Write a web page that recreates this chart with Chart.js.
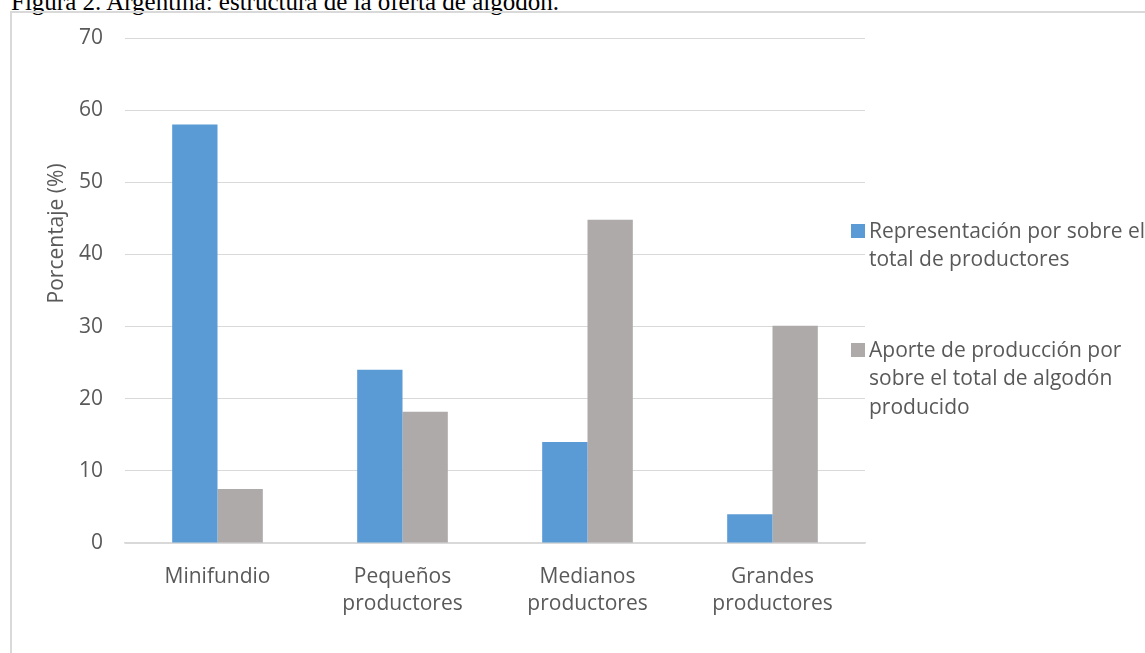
<!DOCTYPE html>
<html>
<head>
<meta charset="utf-8">
<script src="https://cdn.jsdelivr.net/npm/chart.js@4/dist/chart.umd.min.js"></script>
<style>
  html, body { margin: 0; padding: 0; width: 1145px; height: 653px; overflow: hidden; background: #fff; }
  #title { position: absolute; left: 11px; top: -11px; font-family: "Liberation Serif", "Times New Roman", serif; font-size: 25px; line-height: 25px; color: #000; white-space: nowrap; }
  #frame { position: absolute; left: 10px; top: 11px; width: 1200px; height: 700px; border: 2px solid #d9d9d9; box-sizing: border-box; }
  #c { position: absolute; left: 0; top: 0; }
</style>
</head>
<body>
<div id="title">Figura 2. Argentina: estructura de la oferta de algodón.</div>
<div id="frame"></div>
<canvas id="c" width="1145" height="653"></canvas>
<script>
const categories = [['Minifundio'], ['Pequeños', 'productores'], ['Medianos', 'productores'], ['Grandes', 'productores']];
const seriesNames = [['Representación por sobre el', 'total de productores'], ['Aporte de producción por', 'sobre el total de algodón', 'producido']];
const representacion = [58, 24, 14, 4];
const aporte = [7.5, 18.2, 44.8, 30.1];
const yTicks = [0, 10, 20, 30, 40, 50, 60, 70];
const yTitle = 'Porcentaje (%)';
const colors = ['#5B9BD5', '#AEAAAA'];
const textColor = '#595959';
const FONT = '"Open Sans", "Noto Sans", sans-serif';

const sidePlugin = {
  id: 'side',
  afterDraw(chart) {
    const ctx = chart.ctx;
    const a = chart.chartArea;
    ctx.save();
    // y axis title
    ctx.fillStyle = textColor;
    ctx.font = '21px ' + FONT;
    ctx.textAlign = 'center';
    ctx.textBaseline = 'middle';
    ctx.translate(57, a.top + (a.bottom - a.top) * 0.387);
    ctx.rotate(-Math.PI / 2);
    ctx.fillText(yTitle, 0, 0);
    ctx.restore();
    // legend
    ctx.save();
    ctx.font = '21px ' + FONT;
    ctx.textAlign = 'left';
    ctx.textBaseline = 'alphabetic';
    const starts = [238, 357];
    const lh = 28.3;
    chart.data.datasets.forEach((ds, i) => {
      const base = starts[i];
      ctx.fillStyle = ds.backgroundColor;
      ctx.fillRect(a.right - 14, base - 14, 14, 14);
      ctx.fillStyle = textColor;
      seriesNames[i].forEach((line, j) => {
        ctx.fillText(line, a.right + 4, base + j * lh);
      });
    });
    ctx.restore();
  }
};

new Chart(document.getElementById('c'), {
  type: 'bar',
  data: {
    labels: categories,
    datasets: [
      { label: seriesNames[0].join(' '), data: representacion, backgroundColor: colors[0] },
      { label: seriesNames[1].join(' '), data: aporte, backgroundColor: colors[1] }
    ]
  },
  options: {
    responsive: false,
    animation: false,
    devicePixelRatio: 1,
    layout: { padding: { left: 0, right: 280, top: 38, bottom: 0 } },
    datasets: { bar: { categoryPercentage: 0.49, barPercentage: 1.0 } },
    plugins: { legend: { display: false }, tooltip: { enabled: false }, title: { display: false } },
    scales: {
      x: {
        grid: { display: false, drawTicks: false },
        border: { display: true, color: '#D9D9D9', width: 1.5 },
        ticks: { color: textColor, font: { family: FONT, size: 21, lineHeight: '27.5px' }, padding: 20, maxRotation: 0, autoSkip: false },
        afterFit(s) { s.height = 110; }
      },
      y: {
        min: 0, max: 70,
        afterBuildTicks(s) { s.ticks = yTicks.map(v => ({ value: v })); },
        grid: { color: '#D9D9D9', lineWidth: 1, drawTicks: false },
        border: { display: false },
        ticks: { color: textColor, font: { family: FONT, size: 21 }, padding: 22 },
        afterFit(s) { s.width = 125; }
      }
    }
  },
  plugins: [sidePlugin]
});
</script>
</body>
</html>
